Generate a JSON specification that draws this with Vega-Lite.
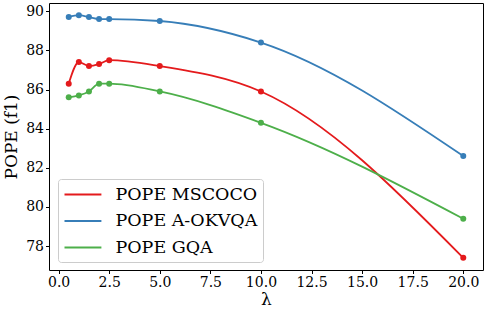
{
  "$schema": "https://vega.github.io/schema/vega-lite/v6.json",
  "width": 434,
  "height": 267,
  "autosize": {"type": "none"},
  "padding": {"left": 49, "top": 3, "right": 3, "bottom": 46},
  "background": "white",
  "config": {
    "font": "DejaVu Serif",
    "view": {"stroke": "black", "strokeWidth": 1},
    "axis": {
      "domain": false,
      "grid": false,
      "tickColor": "black",
      "tickSize": 3.5,
      "labelColor": "black",
      "labelFontSize": 14,
      "labelFont": "DejaVu Serif",
      "labelPadding": 2,
      "titleFont": "DejaVu Serif",
      "titleFontSize": 17,
      "titleFontWeight": "normal",
      "titleColor": "black"
    }
  },
  "data": {
    "values": [
      {"lambda": 0.5, "f1": 86.3, "dataset": "POPE MSCOCO"},
      {"lambda": 1.0, "f1": 87.4, "dataset": "POPE MSCOCO"},
      {"lambda": 1.5, "f1": 87.2, "dataset": "POPE MSCOCO"},
      {"lambda": 2.0, "f1": 87.3, "dataset": "POPE MSCOCO"},
      {"lambda": 2.5, "f1": 87.5, "dataset": "POPE MSCOCO"},
      {"lambda": 5.0, "f1": 87.2, "dataset": "POPE MSCOCO"},
      {"lambda": 10.0, "f1": 85.9, "dataset": "POPE MSCOCO"},
      {"lambda": 20.0, "f1": 77.4, "dataset": "POPE MSCOCO"},
      {"lambda": 0.5, "f1": 89.7, "dataset": "POPE A-OKVQA"},
      {"lambda": 1.0, "f1": 89.8, "dataset": "POPE A-OKVQA"},
      {"lambda": 1.5, "f1": 89.7, "dataset": "POPE A-OKVQA"},
      {"lambda": 2.0, "f1": 89.6, "dataset": "POPE A-OKVQA"},
      {"lambda": 2.5, "f1": 89.6, "dataset": "POPE A-OKVQA"},
      {"lambda": 5.0, "f1": 89.5, "dataset": "POPE A-OKVQA"},
      {"lambda": 10.0, "f1": 88.4, "dataset": "POPE A-OKVQA"},
      {"lambda": 20.0, "f1": 82.6, "dataset": "POPE A-OKVQA"},
      {"lambda": 0.5, "f1": 85.6, "dataset": "POPE GQA"},
      {"lambda": 1.0, "f1": 85.7, "dataset": "POPE GQA"},
      {"lambda": 1.5, "f1": 85.9, "dataset": "POPE GQA"},
      {"lambda": 2.0, "f1": 86.3, "dataset": "POPE GQA"},
      {"lambda": 2.5, "f1": 86.3, "dataset": "POPE GQA"},
      {"lambda": 5.0, "f1": 85.9, "dataset": "POPE GQA"},
      {"lambda": 10.0, "f1": 84.3, "dataset": "POPE GQA"},
      {"lambda": 20.0, "f1": 79.4, "dataset": "POPE GQA"}
    ]
  },
  "encoding": {
    "x": {
      "field": "lambda",
      "type": "quantitative",
      "title": "λ",
      "scale": {"domain": [-0.475, 20.975], "nice": false, "zero": false},
      "axis": {"values": [0, 2.5, 5, 7.5, 10, 12.5, 15, 17.5, 20], "format": ".1f", "titlePadding": 2}
    },
    "y": {
      "field": "f1",
      "type": "quantitative",
      "title": "POPE (f1)",
      "scale": {"domain": [76.78, 90.42], "nice": false, "zero": false},
      "axis": {"values": [78, 80, 82, 84, 86, 88, 90], "format": "d", "titlePadding": 5}
    }
  },
  "layer": [
    {
      "mark": {"type": "line", "interpolate": "monotone", "strokeWidth": 1.8},
      "encoding": {
        "color": {
          "field": "dataset",
          "type": "nominal",
          "scale": {
            "domain": ["POPE MSCOCO", "POPE A-OKVQA", "POPE GQA"],
            "range": ["#e41a1c", "#377eb8", "#4daf4a"]
          },
          "legend": {
            "title": null,
            "orient": "none",
            "legendX": 9,
            "legendY": 176,
            "symbolType": "M-1,0H3.1",
            "symbolSize": 324,
            "symbolStrokeWidth": 2,
            "labelFontSize": 17.5,
            "labelFont": "DejaVu Serif",
            "labelColor": "black",
            "rowPadding": 7.5,
            "labelOffset": 32,
            "padding": 5.5,
            "strokeColor": "#cccccc",
            "fillColor": "white",
            "cornerRadius": 3
          }
        }
      }
    },
    {
      "mark": {"type": "point", "filled": true, "opacity": 1, "size": 36},
      "encoding": {
        "color": {
          "field": "dataset",
          "type": "nominal",
          "scale": {
            "domain": ["POPE MSCOCO", "POPE A-OKVQA", "POPE GQA"],
            "range": ["#e41a1c", "#377eb8", "#4daf4a"]
          },
          "legend": null
        }
      }
    }
  ]
}
